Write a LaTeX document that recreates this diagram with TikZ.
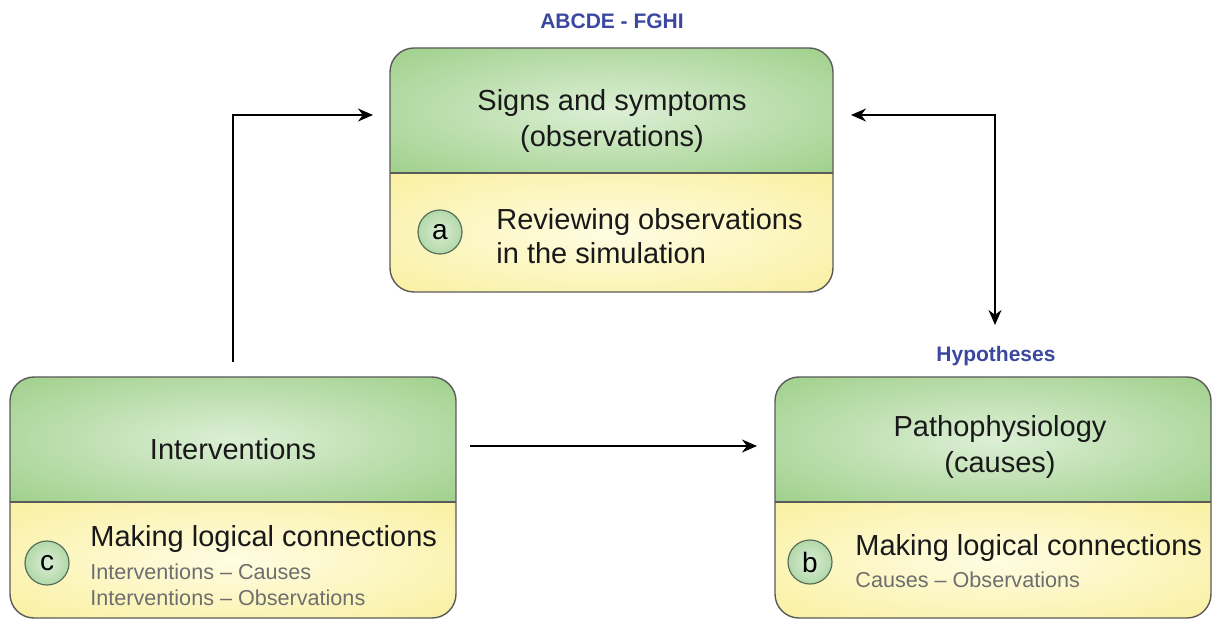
\documentclass[tikz,border=0pt]{standalone}
\usepackage{fontspec}
\setmainfont{Liberation Sans}
\usetikzlibrary{arrows.meta}
\definecolor{gdark}{HTML}{98CC82}
\definecolor{glight}{HTML}{DCEFD5}
\definecolor{ydark}{HTML}{F8EE95}
\definecolor{ylight}{HTML}{FFFCE2}
\definecolor{edgec}{HTML}{5A5A5A}
\definecolor{lblue}{HTML}{3B48A0}
\definecolor{subgray}{HTML}{6E6E6E}
\definecolor{cin}{HTML}{D9EDD3}
\definecolor{cout}{HTML}{B3D8A9}
\definecolor{cedge}{HTML}{55705A}
\pgfdeclareradialshading{gshade}{\pgfpoint{0bp}{0bp}}{color(0bp)=(glight); color(40bp)=(gdark); color(50bp)=(gdark)}
\pgfdeclareradialshading{yshade}{\pgfpoint{0bp}{0bp}}{color(0bp)=(ylight); color(42bp)=(ydark); color(50bp)=(ydark)}
\newcommand\twobox[5]{%
  \begin{scope}
    \clip[rounded corners=12pt] (#1,#2) rectangle (#3,#4);
    \shade[shading=gshade] (#1,#2) rectangle (#3,#5);
    \shade[shading=yshade] (#1,#5) rectangle (#3,#4);
  \end{scope}
  \draw[boxline] (#1,#5) -- (#3,#5);
  \draw[boxline, rounded corners=12pt] (#1,#2) rectangle (#3,#4);
}
\tikzset{
  boxline/.style={draw=edgec, line width=0.7pt},
  title/.style={align=center, font=\fontsize{14.5}{17.5}\selectfont, text=black!90},
  main/.style={anchor=west, align=left, font=\fontsize{14.5}{17}\selectfont, text=black!90, inner sep=0pt},
  sub/.style={anchor=west, align=left, font=\fontsize{10.8}{13}\selectfont, text=subgray, inner sep=0pt},
  lbl/.style={font=\bfseries\fontsize{10.5}{12}\selectfont, text=lblue},
  circ/.style={circle, draw=cedge, line width=0.6pt, inner color=cin, outer color=cout, minimum size=22pt, inner sep=0pt, font=\fontsize{14}{14}\selectfont},
  conn/.style={line width=0.8pt, -{Stealth[length=7.5pt, width=6.5pt]}},
  conn2/.style={line width=0.8pt, {Stealth[length=7.5pt, width=6.5pt]}-{Stealth[length=7.5pt, width=6.5pt]}}
}
\begin{document}
\begin{tikzpicture}[x=0.5pt, y=-0.5pt]
\useasboundingbox (0,0) rectangle (1213,619);
% boxes
\twobox{390}{48}{833}{292}{173}
\twobox{10}{377}{456}{618}{502}
\twobox{775}{377}{1211}{618}{502}
% labels
\node[lbl] (lab1) at (612,21) {ABCDE - FGHI};
\node[lbl] (lab2) at (996,356) {Hypotheses};
% top box
\node[title] (tt) at (612,121) {Signs and symptoms\\(observations)};
\node[circ] (ca) at (440,232) {a};
\node[main] (ta) at (496,236) {Reviewing observations\\in the simulation};
% left box
\node[title] (lt) at (233,449) {Interventions};
\node[circ] (cc) at (47,563) {c};
\node[main] (lm) at (90,539) {Making logical connections};
\node[sub] (ls1) at (90,572) {Interventions -- Causes};
\node[sub] (ls2) at (90,598) {Interventions -- Observations};
% right box
\node[title, font=\fontsize{14.5}{18}\selectfont] (rt) at (1000,447) {Pathophysiology\\(causes)};
\node[circ] (cb) at (810,562) {b};
\node[main] (rm) at (855,548) {Making logical connections};
\node[sub] (rs1) at (855,580) {Causes -- Observations};
% connector endpoints
\coordinate (p1) at (233,362);
\coordinate (p2) at (373,115);
\coordinate (p3) at (470,446);
\coordinate (p4) at (757,446);
\coordinate (p5) at (851,115);
\coordinate (p6) at (995,325);
% connectors
\draw[conn] (p1) |- (p2);
\draw[conn] (p3) -- (p4);
\draw[conn2] (p5) -| (p6);
\end{tikzpicture}
\end{document}
